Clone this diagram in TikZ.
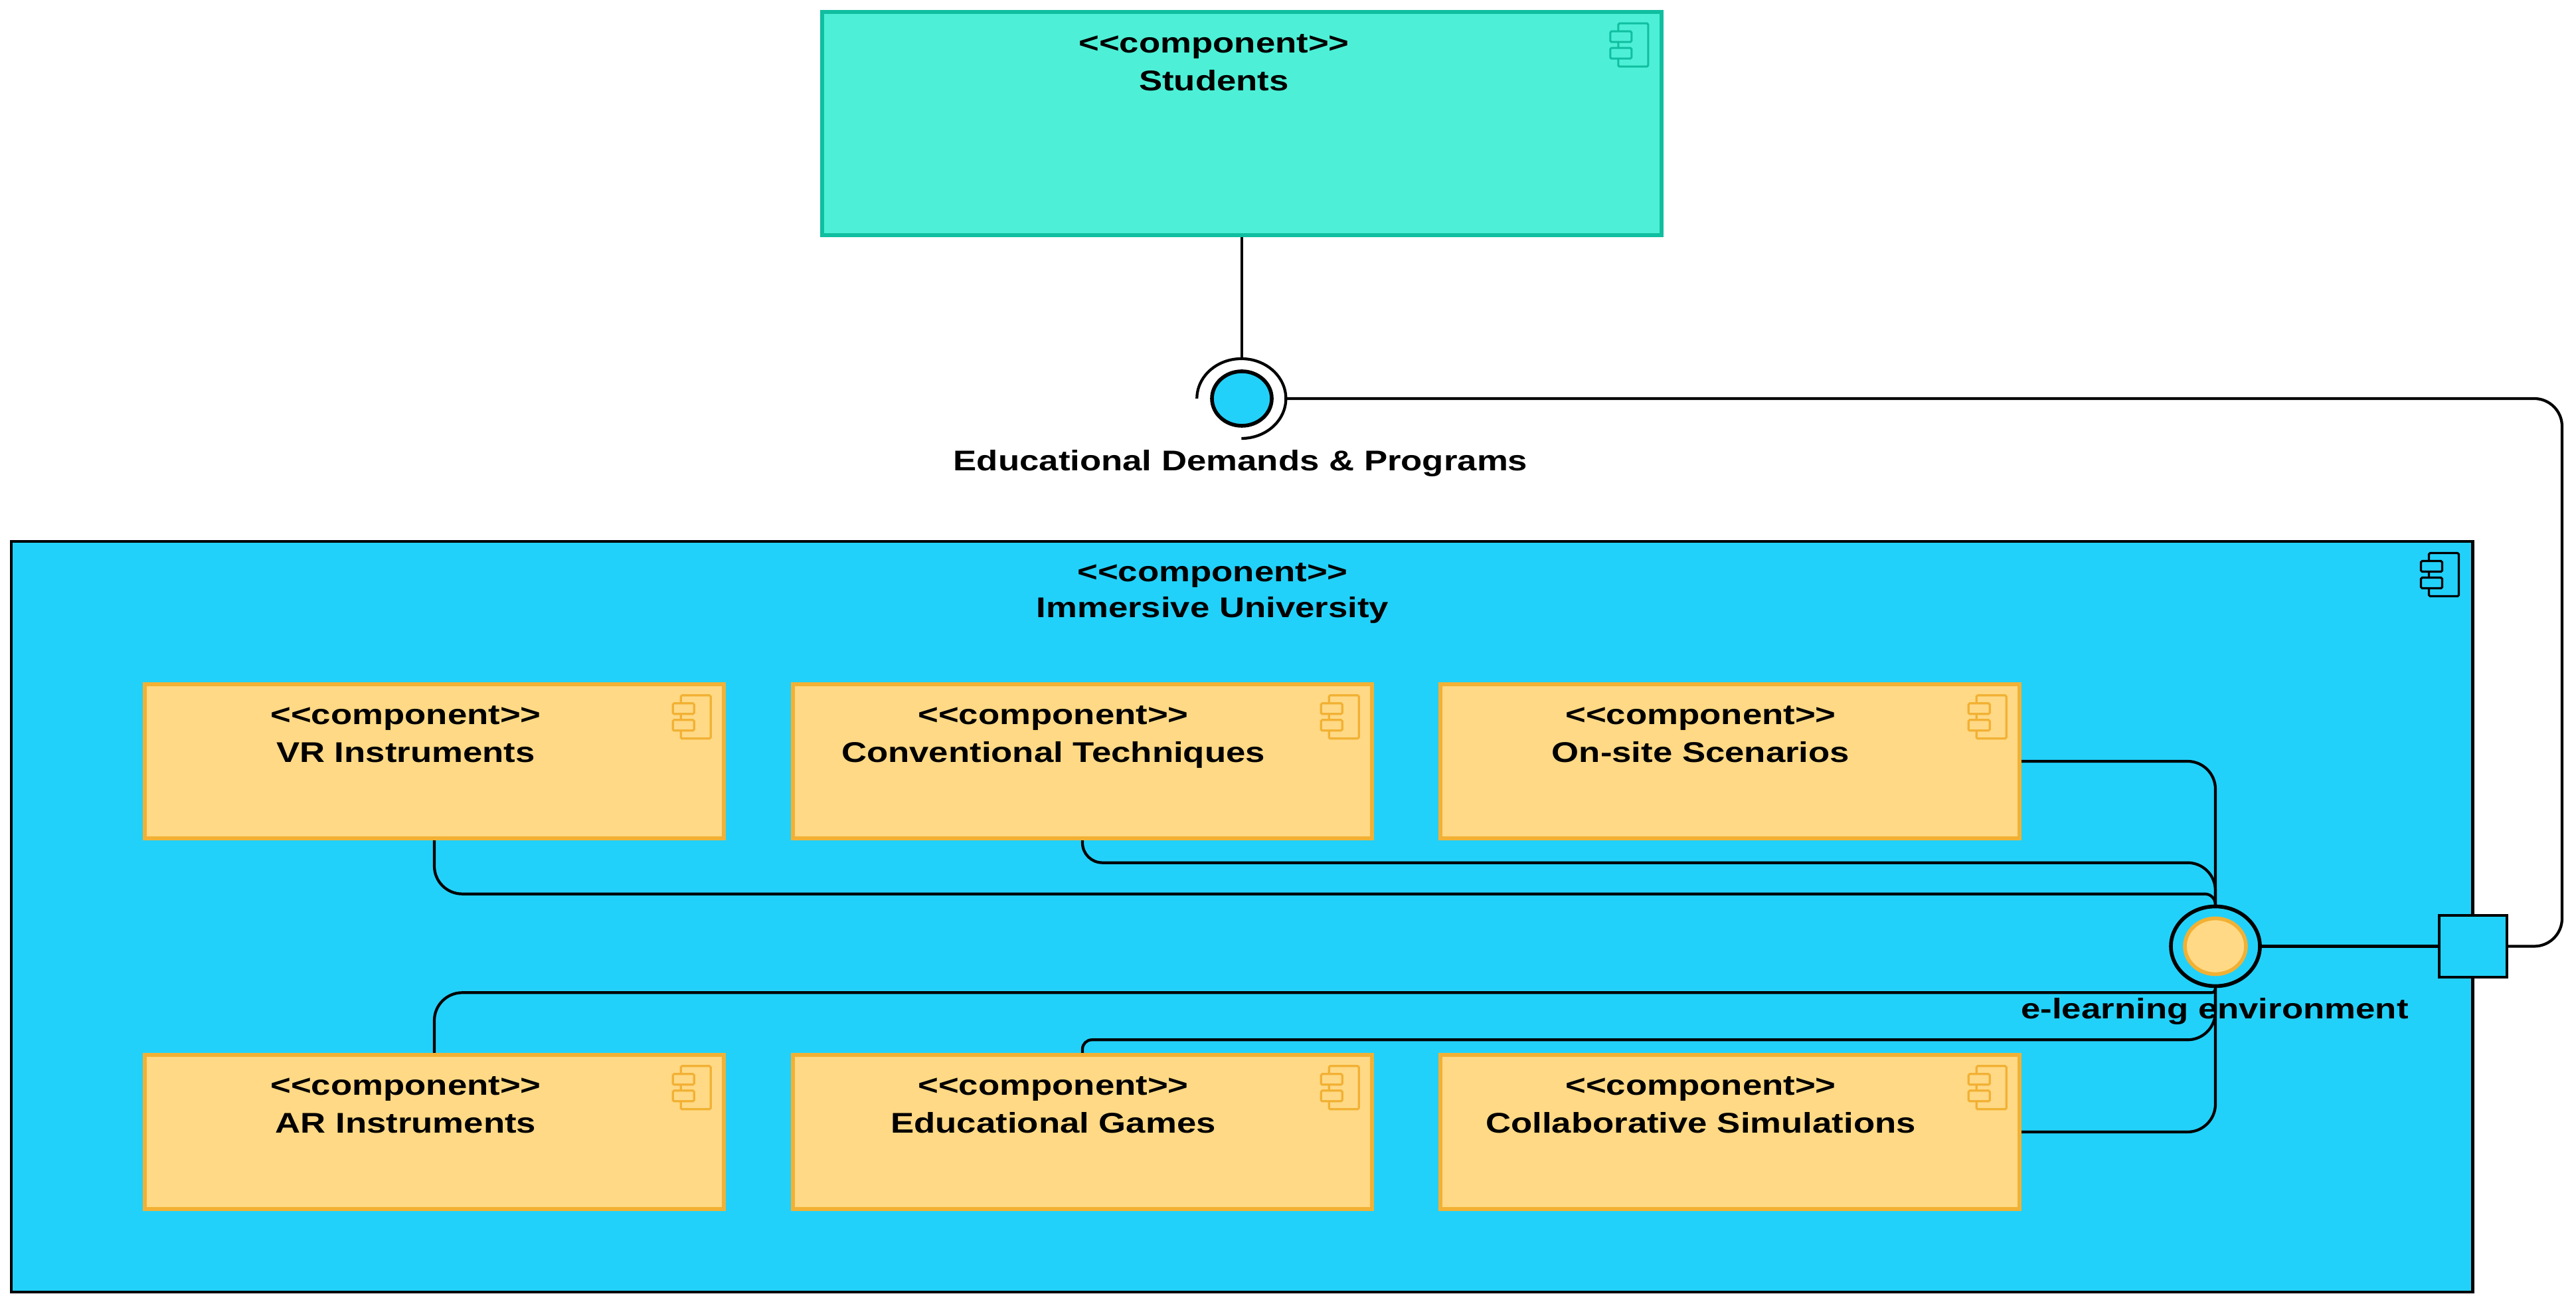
\documentclass[tikz,border=0pt]{standalone}
\usepackage{fontspec}
\setmainfont[FakeStretch=1.23]{Liberation Sans}
\usetikzlibrary{shapes.geometric,positioning,calc}
\pgfdeclarelayer{front}
\pgfsetlayers{main,front}
\definecolor{skyfill}{RGB}{34,209,250}
\definecolor{tealfill}{RGB}{77,240,214}
\definecolor{tealedge}{RGB}{16,190,160}
\definecolor{sandfill}{RGB}{255,217,133}
\definecolor{sandedge}{RGB}{242,177,52}
\tikzset{
  comp/.style={rectangle,draw=sandedge,fill=sandfill,line width=1.8pt,
    minimum width=8.72cm,minimum height=2.32cm},
  big/.style={rectangle,draw=black,fill=skyfill,line width=1.4pt,
    minimum width=37.06cm,minimum height=11.3cm},
  top/.style={rectangle,draw=tealedge,fill=tealfill,line width=1.6pt,
    minimum width=12.64cm,minimum height=3.36cm},
  txt/.style={align=center,inner sep=0pt,font=\bfseries\fontsize{12.2}{16.2}\selectfont},
  head/.style={txt,anchor=north},
  wire/.style={draw=black,line width=1.2pt,rounded corners=0.42cm},
  ball/.style={ellipse,draw=black,line width=1.6pt,inner sep=0pt},
  port/.style={rectangle,draw=black,fill=skyfill,line width=1.2pt,
    minimum width=1.02cm,minimum height=0.93cm}
}
\newcommand{\compicon}[3]{
  \begin{scope}[shift={(#1)},draw=#2,fill=#3,line width=0.9pt,rounded corners=0.5pt]
    \draw (-0.68,-0.2) rectangle (-0.23,-0.85);
    \filldraw (-0.8,-0.32) rectangle (-0.48,-0.48);
    \filldraw (-0.8,-0.57) rectangle (-0.48,-0.73);
  \end{scope}
}

\begin{document}
\begin{tikzpicture}
    \useasboundingbox (0,0) rectangle (38.79,19.69);

    % Students
    \node[top] (students) at (18.70, 17.83) {};
    \compicon{students.north east}{tealedge}{tealfill}
    \node[head] (studentstxt) at (18.28, 19.18) {<{}<component>{}>\\Students};

    % Required interface
    \node[ball,fill=skyfill,minimum width=0.9cm,minimum height=0.82cm] (demands) at (18.70, 13.69) {};
    \node[ellipse,minimum width=1.34cm,minimum height=1.2cm,inner sep=0pt] (socket) at (18.70, 13.69) {};
    \draw[line width=1.2pt] (socket.west) arc[start angle=180,end angle=-90,x radius=0.67,y radius=0.6];
    \node[txt] (demandstxt) at (18.68, 12.71) {Educational Demands \& Programs};
    \draw[wire] (students.south) -- (socket.north);

    % Immersive University
    \node[big] (university) at (18.70, 5.89) {};
    \compicon{university.north east}{black}{skyfill}
    \node[head,font=\bfseries\fontsize{12.2}{15.4}\selectfont] (universitytxt) at (18.26, 11.22) {<{}<component>{}>\\Immersive University};

    % Upper row
    \node[comp] (vr) at (6.54, 8.23) {};
    \node[comp] (conv) at (16.30, 8.23) {};
    \node[comp] (onsite) at (26.05, 8.23) {};
    \compicon{vr.north east}{sandedge}{sandfill}
    \compicon{conv.north east}{sandedge}{sandfill}
    \compicon{onsite.north east}{sandedge}{sandfill}

    % Lower row
    \node[comp] (ar) at (6.54, 2.65) {};
    \node[comp] (games) at (16.30, 2.65) {};
    \node[comp] (collab) at (26.05, 2.65) {};
    \compicon{ar.north east}{sandedge}{sandfill}
    \compicon{games.north east}{sandedge}{sandfill}
    \compicon{collab.north east}{sandedge}{sandfill}

    % e-learning environment
    \begin{pgfonlayer}{front}
      \node[ball,fill=skyfill,minimum width=1.34cm,minimum height=1.2cm] (env) at (33.36, 5.445) {};
      \node[ball,draw=sandedge,fill=sandfill,minimum width=0.92cm,minimum height=0.84cm] (envcore) at (33.36, 5.445) {};
    \end{pgfonlayer}
    \node[port] (gate) at (37.24, 5.445) {};

    \draw[wire] (vr.south) [rounded corners=0.42cm] |- ($(env.north)+(-1,0.16)$) [rounded corners=0.16cm] -| (env.north);
    \draw[wire] (conv.south) [rounded corners=0.3cm] |- ($(env.north)+(-1,0.63)$) [rounded corners=0.42cm] -| (env.north);
    \draw[wire] (onsite.east) -| (env.north);
    \draw[wire] (ar.north) [rounded corners=0.42cm] |- ($(env.south)+(-1,-0.07)$) [rounded corners=0.06cm] -| (env.south);
    \draw[wire] (games.north) [rounded corners=0.14cm] |- ($(env.south)+(-1,-0.78)$) [rounded corners=0.42cm] -| (env.south);
    \draw[wire] (collab.east) -| (env.south);
    \draw[wire] (env.east) -- (gate.west);
    \draw[wire] (socket.east) -- (38.58, 13.69) |- (gate.east);

    % Labels
    \begin{pgfonlayer}{front}
      \node[head] (vrtxt) at (6.11, 9.07) {<{}<component>{}>\\VR Instruments};
      \node[head] (convtxt) at (15.86, 9.07) {<{}<component>{}>\\Conventional Techniques};
      \node[head] (onsitetxt) at (25.61, 9.07) {<{}<component>{}>\\On-site Scenarios};
      \node[head] (artxt) at (6.11, 3.49) {<{}<component>{}>\\AR Instruments};
      \node[head] (gamestxt) at (15.86, 3.49) {<{}<component>{}>\\Educational Games};
      \node[head] (collabtxt) at (25.61, 3.49) {<{}<component>{}>\\Collaborative Simulations};
      \node[txt] (envtxt) at (33.35, 4.46) {e-learning environment};
    \end{pgfonlayer}
  \end{tikzpicture}
\end{document}
